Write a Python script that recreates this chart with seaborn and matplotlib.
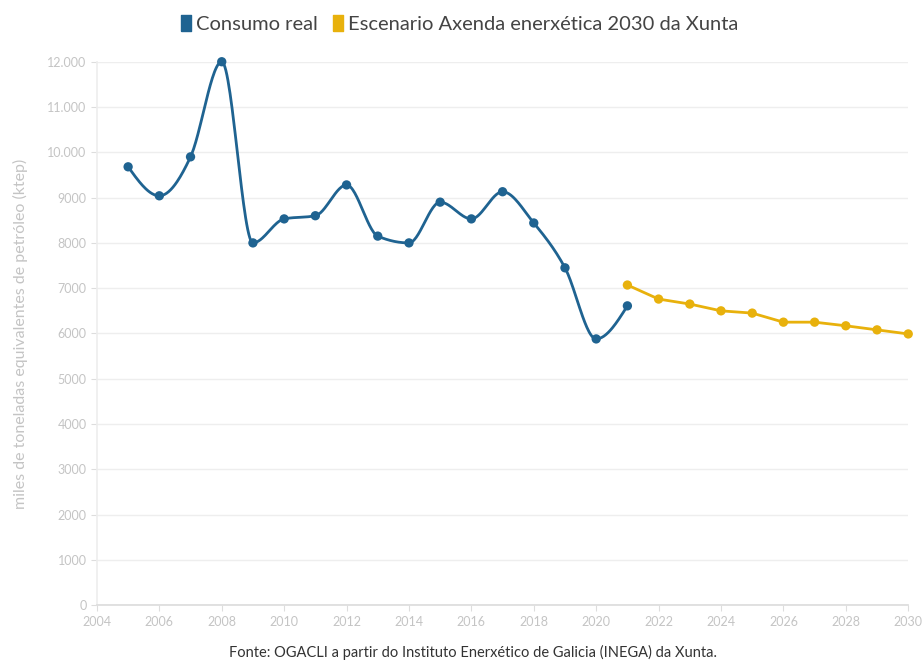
import numpy as np
import pandas as pd
import seaborn as sns
import matplotlib.pyplot as plt
from matplotlib.ticker import FuncFormatter
from matplotlib.lines import Line2D

# data
years_real = [2005, 2006, 2007, 2008, 2009, 2010, 2011, 2012, 2013,
              2014, 2015, 2016, 2017, 2018, 2019, 2020, 2021]
consumo_real = [9680, 9040, 9900, 12000, 8000, 8530, 8600, 9280, 8150,
                8000, 8900, 8530, 9130, 8440, 7450, 5880, 6610]
years_esc = [2021, 2022, 2023, 2024, 2025, 2026, 2027, 2028, 2029, 2030]
escenario = [7070, 6760, 6650, 6500, 6450, 6250, 6250, 6170, 6080, 5990]

blue = '#1f6391'
yellow = '#e8b10c'
grey_txt = '#c4c4c4'


def monotone_curve(x, y, n=30):
    # same tangents as d3.curveMonotoneX
    x = np.asarray(x, float)
    y = np.asarray(y, float)
    h = np.diff(x)
    d = np.diff(y) / h
    m = np.zeros_like(y)
    for i in range(1, len(y) - 1):
        s0, s1 = d[i - 1], d[i]
        p = (s0 * h[i] + s1 * h[i - 1]) / (h[i - 1] + h[i])
        m[i] = (np.sign(s0) + np.sign(s1)) * min(abs(s0), abs(s1), 0.5 * abs(p))
    m[0] = (3 * d[0] - m[1]) / 2
    m[-1] = (3 * d[-1] - m[-2]) / 2
    xs, ys = [], []
    for i in range(len(x) - 1):
        t = np.linspace(0, 1, n, endpoint=(i == len(x) - 2))
        h00 = 2 * t**3 - 3 * t**2 + 1
        h10 = t**3 - 2 * t**2 + t
        h01 = -2 * t**3 + 3 * t**2
        h11 = t**3 - t**2
        xs.append(x[i] + t * h[i])
        ys.append(h00 * y[i] + h10 * h[i] * m[i] + h01 * y[i + 1] + h11 * h[i] * m[i + 1])
    return np.concatenate(xs), np.concatenate(ys)


sns.set_theme(style='white')
plt.rcParams['font.family'] = ['Lato', 'DejaVu Sans']

fig = plt.figure(figsize=(9.23, 6.71), dpi=100)
ax = fig.add_axes([0.105, 0.098, 0.879, 0.810])

sx, sy = monotone_curve(years_real, consumo_real)
smooth = pd.DataFrame({'year': sx, 'value': sy})
real = pd.DataFrame({'year': years_real, 'value': consumo_real})
esc = pd.DataFrame({'year': years_esc, 'value': escenario})

sns.lineplot(data=smooth, x='year', y='value', color=blue, linewidth=2, ax=ax, zorder=3, clip_on=False)
sns.scatterplot(data=real, x='year', y='value', color=blue, s=45, edgecolor='none', ax=ax, zorder=4, clip_on=False)
sns.lineplot(data=esc, x='year', y='value', color=yellow, linewidth=2, ax=ax, zorder=3, clip_on=False)
sns.scatterplot(data=esc, x='year', y='value', color=yellow, s=45, edgecolor='none', ax=ax, zorder=4, clip_on=False)

ax.set_xlim(2004, 2030)
ax.set_ylim(0, 12000)
ax.set_xticks(range(2004, 2031, 2))
ax.set_yticks(range(0, 12001, 1000))


def fmt_y(v, pos):
    v = int(v)
    if v >= 10000:
        return f'{v:,}'.replace(',', '.')
    return str(v)


ax.yaxis.set_major_formatter(FuncFormatter(fmt_y))
ax.grid(axis='y', color='#eeeeee', linewidth=1)
ax.grid(axis='x', visible=False)
for side in ['top', 'right']:
    ax.spines[side].set_visible(False)
ax.spines['left'].set_color('#eeeeee')
ax.spines['bottom'].set_color('#dddddd')
ax.tick_params(axis='both', colors='#dddddd', labelcolor=grey_txt, labelsize=9,
               length=4, width=0.8, direction='out', left=True, bottom=True)
ax.set_xlabel('')
ax.set_ylabel('miles de toneladas equivalentes de petróleo (ktep)', color=grey_txt,
              fontsize=11.5, labelpad=12)
ax.yaxis.set_label_coords(-0.085, 0.5)

# legend: tall swatches like the original
swatch = [(-0.3, -0.5), (0.3, -0.5), (0.3, 0.5), (-0.3, 0.5), (-0.3, -0.5)]
handles = [Line2D([], [], marker=swatch, color=blue, linestyle='none', markersize=12),
           Line2D([], [], marker=swatch, color=yellow, linestyle='none', markersize=12)]
fig.legend(handles, ['Consumo real', 'Escenario Axenda enerxética 2030 da Xunta'],
           loc='center', bbox_to_anchor=(0.495, 0.963), ncol=2, frameon=False,
           fontsize=14.5, handletextpad=0.0, columnspacing=0.5, handlelength=1.0,
           labelcolor='#444444')

fig.text(0.513, 0.016, 'Fonte: OGACLI a partir do Instituto Enerxético de Galicia (INEGA) da Xunta.',
         ha='center', va='bottom', fontsize=10.5, color='#333333')

fig.savefig('out.png', dpi=100)
